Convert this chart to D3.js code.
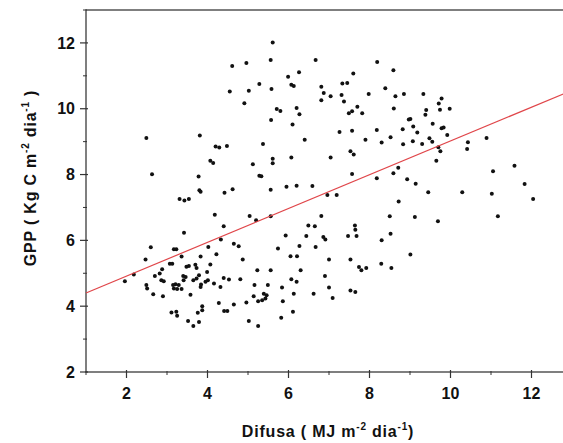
<!DOCTYPE html>
<html lang="pt">
<head>
<meta charset="UTF-8">
<title>GPP vs Difusa</title>
<script src="https://d3js.org/d3.v7.min.js"></script>
<style>
  html, body { margin: 0; padding: 0; background: white; }
  body { font-family: 'Liberation Sans', Arial, sans-serif; }
  .tick-label { font-size: 16px; font-weight: bold; fill: #111; }
  .axis-title { font-size: 16px; font-weight: bold; fill: #111; letter-spacing: 0.8px; }
</style>
</head>
<body>
<div id="chart"></div>
<script>

// ---------------- data ----------------
const difusa = [
  4.61,4.96,5.28,4.55,5.02,4.91,2.49,3.81,4.20,4.29,4.48,4.07,4.14,5.12,2.63,3.78,5.28,4.62,3.80,
  5.61,5.56,6.67,8.19,8.59,5.99,6.26,7.60,6.07,6.13,5.58,6.81,6.87,7.33,7.45,7.04,7.31,7.37,6.81,7.98,8.39,8.64,8.85,
  5.71,5.80,6.20,6.27,5.57,7.49,7.57,7.70,7.82,8.60,8.97,6.10,7.26,7.57,8.18,8.82,6.40,7.90,8.30,8.52,8.83,5.37,
  5.61,5.61,6.07,7.04,7.53,7.61,5.33,7.57,8.18,8.59,8.71,8.93,5.95,6.20,6.59,5.56,
  9.33,9.78,9.71,9.40,9.38,9.74,9.98,9.01,9.08,9.18,9.56,9.78,9.83,9.92,9.07,9.30,9.48,9.55,9.70,9.75,10.43,10.41,10.89,9.65,11.05,11.58,9.14,11.83,
  9.45,10.29,11.02,12.04,9.12,9.69,11.17,9.01,
  3.83,4.42,3.31,3.43,3.54,4.18,5.04,5.20,4.40,3.42,
  4.33,4.65,4.77,2.60,3.17,3.23,4.02,4.22,2.47,3.36,
  3.83,4.87,4.07,3.07,3.13,2.88,3.48,3.54,3.70,3.73,
  1.96,2.18,2.70,2.82,2.86,2.92,3.40,3.46,3.65,3.73,
  3.79,3.99,4.01,3.95,4.16,4.40,4.53,4.81,5.23,2.49,
  2.51,3.15,3.21,3.29,3.36,3.17,3.25,3.41,3.83,3.84,
  4.32,5.16,2.66,2.90,3.58,5.14,5.25,4.28,4.65,4.96,
  3.11,3.23,3.25,3.87,3.87,3.76,4.41,4.49,3.52,3.65,
  3.79,5.02,5.25,
  6.96,7.19,8.72,5.56,6.81,8.50,6.49,6.65,7.64,7.65,
  7.68,7.47,8.52,5.93,6.44,6.86,6.91,8.30,6.27,6.67,
  5.74,6.05,6.21,7.00,7.53,7.74,7.80,7.92,8.29,8.54,
  5.56,6.30,6.90,6.07,6.20,5.49,5.84,7.00,7.53,7.65,
  5.39,5.46,5.35,5.43,6.13,6.62,7.09,5.86,6.11,5.82
];

const gpp = [
  11.30,11.39,10.75,10.52,10.55,10.17,9.11,9.19,8.85,8.82,8.87,8.42,8.35,8.31,8.01,7.94,7.96,7.55,7.52,
  12.01,11.48,11.48,11.42,11.17,10.97,11.11,11.07,10.73,10.69,10.60,10.67,10.48,10.77,10.78,10.38,10.42,10.22,10.26,10.45,10.62,10.38,10.45,
  9.99,9.93,10.02,9.83,9.66,9.86,9.92,10.06,9.86,10.01,9.67,9.52,9.29,9.33,9.35,9.38,9.06,9.06,8.97,9.13,8.92,8.93,
  8.48,8.34,8.52,8.52,8.71,8.61,7.95,8.02,7.89,8.04,8.21,7.86,7.63,7.66,7.65,7.54,
  10.45,10.31,10.16,9.96,9.82,9.97,10.00,9.69,9.46,9.28,9.54,9.41,9.43,9.20,9.01,8.93,9.10,9.00,8.83,8.71,8.98,8.78,9.11,8.42,8.10,8.27,7.72,7.71,
  7.46,7.46,7.42,7.26,6.71,6.58,6.73,5.57,
  7.48,7.45,7.26,7.21,7.26,6.78,6.74,6.61,6.43,6.23,
  6.03,5.90,5.82,5.79,5.73,5.73,5.80,5.58,5.42,5.51,
  5.51,5.42,5.27,5.29,5.29,5.12,5.20,5.22,5.26,5.16,
  4.76,4.96,4.92,4.99,4.79,4.76,4.92,4.89,4.79,4.84,
  4.94,5.04,4.79,4.74,4.69,4.86,4.81,4.82,5.09,4.64,
  4.54,4.64,4.67,4.64,4.52,4.54,4.52,4.79,4.58,4.66,
  4.58,4.64,4.36,4.30,4.35,4.30,4.15,4.10,4.05,4.11,
  3.81,3.83,3.71,4.00,3.88,3.80,3.85,3.85,3.55,3.40,
  3.52,3.55,3.40,
  7.38,7.38,7.18,6.73,6.74,6.73,6.45,6.43,6.45,6.32,
  6.13,6.13,6.20,6.15,6.13,6.10,6.03,6.00,5.83,5.80,
  5.75,5.52,5.52,5.42,5.42,5.19,5.09,5.16,5.29,5.16,
  5.09,5.09,4.92,4.82,4.74,4.64,4.57,4.57,4.48,4.43,
  4.38,4.33,4.18,4.23,4.38,4.38,4.25,4.15,3.83,3.65
];

// linear fit end points
const fitX = [1, 13];
const fitY = [4.40, 10.56];

const xTicks = [2, 4, 6, 8, 10, 12];
const xMinor = [1, 3, 5, 7, 9, 11, 13];
const yTicks = [2, 4, 6, 8, 10, 12];
const yMinor = [3, 5, 7, 9, 11, 13];

// ---------------- size ----------------
const totalWidth = 563, totalHeight = 443;
const plot = {left: 86, right: 572, top: 10, bottom: 372};

const svg = d3.select("#chart").append("svg")
  .attr("width", totalWidth)
  .attr("height", totalHeight);

const x = d3.scaleLinear().domain([1, 13]).range([plot.left, plot.right]);
const y = d3.scaleLinear().domain([2, 13]).range([plot.bottom, plot.top]);

// ---------------- frame ----------------
svg.append("rect")
  .attr("x", plot.left).attr("y", plot.top)
  .attr("width", plot.right - plot.left)
  .attr("height", plot.bottom - plot.top)
  .attr("fill", "none")
  .attr("stroke", "#555")
  .attr("stroke-width", 1.5);

// ---------------- axes ----------------
const xAxis = svg.append("g").attr("transform", `translate(0,${plot.bottom})`);
xAxis.selectAll(".major").data(xTicks).join("line")
  .attr("x1", d => x(d)).attr("x2", d => x(d))
  .attr("y1", -2).attr("y2", 6)
  .attr("stroke", "#333").attr("stroke-width", 1.2);
xAxis.selectAll(".minor").data(xMinor).join("line")
  .attr("x1", d => x(d)).attr("x2", d => x(d))
  .attr("y1", -1).attr("y2", 3)
  .attr("stroke", "#333").attr("stroke-width", 1);
xAxis.selectAll("text").data(xTicks).join("text")
  .attr("class", "tick-label")
  .attr("x", d => x(d)).attr("y", 27)
  .attr("text-anchor", "middle")
  .text(d => d);

const yAxis = svg.append("g").attr("transform", `translate(${plot.left},0)`);
yAxis.selectAll(".major").data(yTicks).join("line")
  .attr("y1", d => y(d)).attr("y2", d => y(d))
  .attr("x1", -6).attr("x2", 2)
  .attr("stroke", "#333").attr("stroke-width", 1.2);
yAxis.selectAll(".minor").data(yMinor).join("line")
  .attr("y1", d => y(d)).attr("y2", d => y(d))
  .attr("x1", -3).attr("x2", 1)
  .attr("stroke", "#333").attr("stroke-width", 1);
yAxis.selectAll("text").data(yTicks).join("text")
  .attr("class", "tick-label")
  .attr("x", -11).attr("y", d => y(d))
  .attr("dy", "0.36em")
  .attr("text-anchor", "end")
  .text(d => d);

// ---------------- titles ----------------
const xt = svg.append("text")
  .attr("class", "axis-title")
  .attr("x", 328).attr("y", 437)
  .attr("text-anchor", "middle");
xt.append("tspan").text("Difusa ( MJ m");
xt.append("tspan").attr("dy", -7).attr("font-size", 10).text("-2");
xt.append("tspan").attr("dy", 7).text(" dia");
xt.append("tspan").attr("dy", -7).attr("font-size", 10).text("-1");
xt.append("tspan").attr("dy", 7).text(")");

const yt = svg.append("text")
  .attr("class", "axis-title")
  .attr("transform", "translate(36,178) rotate(-90)")
  .attr("text-anchor", "middle");
yt.append("tspan").text("GPP ( Kg C m");
yt.append("tspan").attr("dy", -7).attr("font-size", 10).text("-2");
yt.append("tspan").attr("dy", 7).text(" dia");
yt.append("tspan").attr("dy", -7).attr("font-size", 10).text("-1");
yt.append("tspan").attr("dy", 7).text(" )");

// ---------------- points ----------------
const points = difusa.map((d, i) => ({x: d, y: gpp[i]}));

svg.append("g").selectAll("circle")
  .data(points)
  .join("circle")
  .attr("cx", d => x(d.x))
  .attr("cy", d => y(d.y))
  .attr("r", 2)
  .attr("fill", "#111");

// ---------------- fit line ----------------
svg.append("line")
  .attr("x1", x(fitX[0])).attr("y1", y(fitY[0]))
  .attr("x2", x(fitX[1])).attr("y2", y(fitY[1]))
  .attr("stroke", "#e0464a")
  .attr("stroke-width", 1.2);

</script>
</body>
</html>
